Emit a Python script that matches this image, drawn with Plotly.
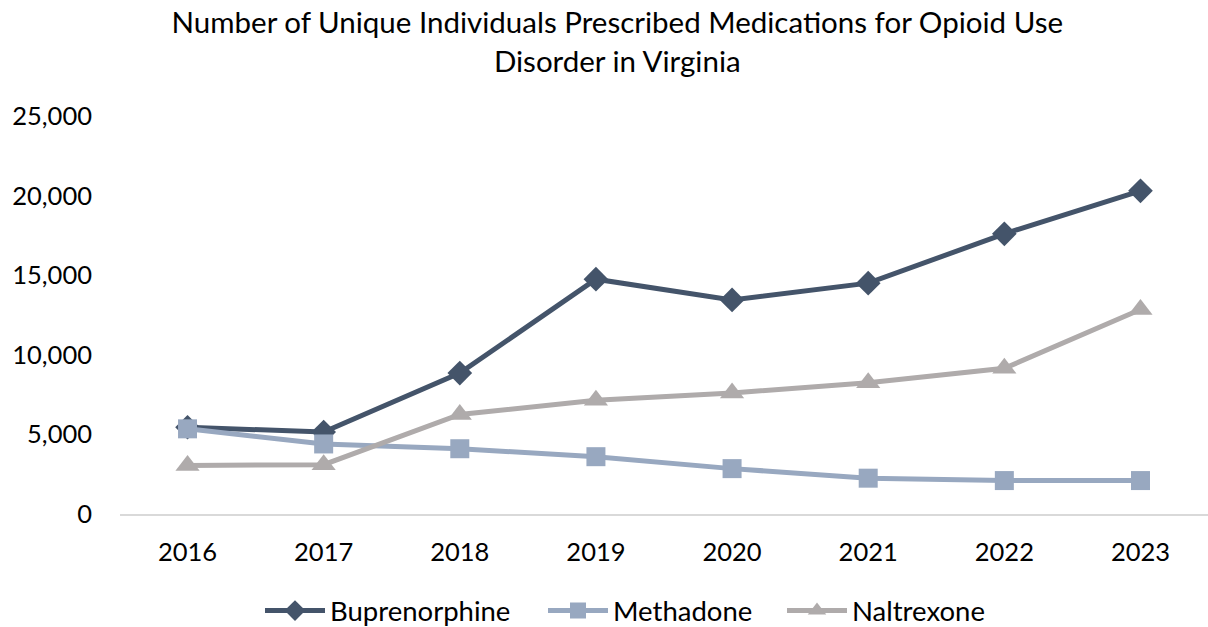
import plotly.graph_objects as go

years = ["2016", "2017", "2018", "2019", "2020", "2021", "2022", "2023"]
buprenorphine = [5450, 5150, 8850, 14750, 13450, 14500, 17600, 20300]
methadone = [5350, 4400, 4100, 3600, 2850, 2250, 2100, 2100]
naltrexone = [3050, 3100, 6250, 7150, 7600, 8250, 9150, 12850]

FONT = "Lato"
fig = go.Figure()
fig.add_trace(go.Scatter(x=years, y=buprenorphine, name="Buprenorphine", mode="lines+markers",
                         line=dict(color="#44546A", width=5), legend="legend",
                         marker=dict(symbol="diamond", size=19, color="#44546A")))
fig.add_trace(go.Scatter(x=years, y=methadone, name="Methadone", mode="lines+markers",
                         line=dict(color="#98A8C0", width=5), legend="legend2",
                         marker=dict(symbol="square", size=19, color="#98A8C0")))
fig.add_trace(go.Scatter(x=years, y=naltrexone, name="Naltrexone", mode="lines+markers",
                         line=dict(color="#AFABAB", width=5), legend="legend3",
                         marker=dict(symbol="triangle-up", size=21, color="#AFABAB")))

def leg(xpix):
    return dict(orientation="h", xref="container", x=xpix / 1208, xanchor="left",
                yref="container", y=0.026, yanchor="middle", bgcolor="rgba(0,0,0,0)",
                font=dict(family=FONT, size=27.5), itemwidth=60)

fig.update_layout(
    width=1208, height=627,
    paper_bgcolor="white", plot_bgcolor="white",
    margin=dict(l=120, r=0, t=116, b=113, autoexpand=False),
    font=dict(family=FONT, size=25.5, color="#000000"),
    title=dict(text="Number of Unique Individuals Prescribed Medications for Opioid Use<br>Disorder in Virginia",
               x=0.511, xanchor="center", y=0.947, yanchor="top",
               font=dict(family=FONT, size=29.5, color="#000000")),
    legend=leg(260), legend2=leg(543), legend3=leg(782),
    showlegend=True,
)
fig.update_xaxes(type="category", showgrid=False, showline=True, linecolor="#D9D9D9", linewidth=2,
                 ticks="", ticklabelstandoff=14, zeroline=False)
fig.update_yaxes(range=[0, 25000], tickvals=[0, 5000, 10000, 15000, 20000, 25000],
                 tickformat=",d", showgrid=False, zeroline=False, showline=False,
                 ticks="", ticklabelstandoff=27)

fig.write_html("out.html", config={"displayModeBar": False})

with open("out.html", "r", encoding="utf-8") as f:
    html = f.read()
html = html.replace("<head>", "<head><style>html,body{margin:0;padding:0;overflow:hidden;}</style>", 1)
with open("out.html", "w", encoding="utf-8") as f:
    f.write(html)
